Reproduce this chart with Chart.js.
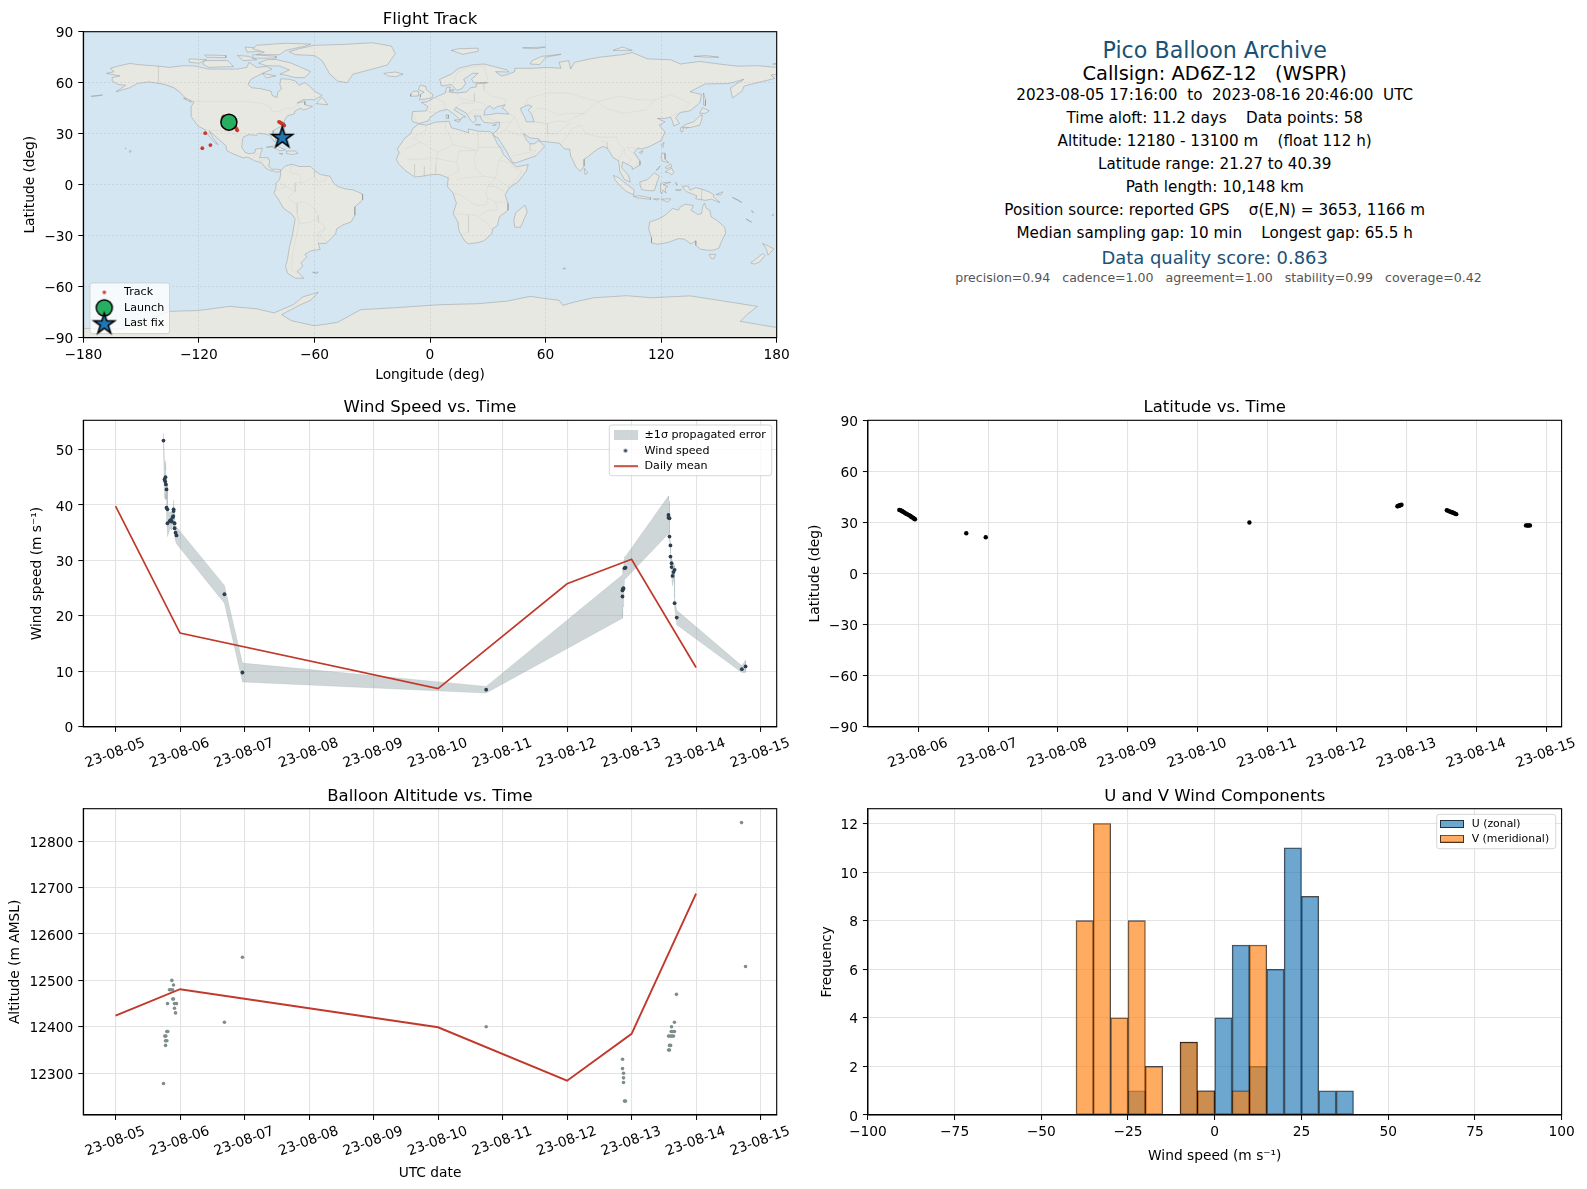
<!DOCTYPE html>
<html><head><meta charset="utf-8">
<script src="https://cdn.jsdelivr.net/npm/chart.js@4/dist/chart.umd.js"></script>
<style>
html,body{margin:0;padding:0;background:#fff;width:1587px;height:1189px;overflow:hidden;font-family:"DejaVu Sans",sans-serif}
canvas{position:absolute}
.t{position:absolute;left:1214.7px;transform:translate(-50%,-50%);white-space:pre;color:#000;font-size:15.2px}
</style></head><body>
<div class="t" style="top:50px;font-size:22.2px;color:#1a5276">Pico Balloon Archive</div>
<div class="t" style="top:73px;font-size:19.4px">Callsign: AD6Z-12   (WSPR)</div>
<div class="t" style="top:94.5px">2023-08-05 17:16:00  to  2023-08-16 20:46:00  UTC</div>
<div class="t" style="top:117.5px">Time aloft: 11.2 days    Data points: 58</div>
<div class="t" style="top:140.5px">Altitude: 12180 - 13100 m    (float 112 h)</div>
<div class="t" style="top:163.5px">Latitude range: 21.27 to 40.39</div>
<div class="t" style="top:186.5px">Path length: 10,148 km</div>
<div class="t" style="top:209.5px">Position source: reported GPS    σ(E,N) = 3653, 1166 m</div>
<div class="t" style="top:232.5px">Median sampling gap: 10 min    Longest gap: 65.5 h</div>
<div class="t" style="top:256.5px;font-size:17.9px;color:#1a5276">Data quality score: 0.863</div>
<div class="t" style="top:277px;left:1218.5px;font-size:12.55px;color:#555">precision=0.94   cadence=1.00   agreement=1.00   stability=0.99   coverage=0.42</div>
<script>
// ---------- values ----------
const dayTicksLeft = [5,6,7,8,9,10,11,12,13,14,15];
const dayTicksLat = [6,7,8,9,10,11,12,13,14,15];
const windDays = [5.743,5.759,5.77,5.774,5.78,5.79,5.79,5.805,5.805,5.84,5.86,5.87,5.885,5.895,5.90,5.90,5.915,5.915,5.93,5.945,6.688,6.967,10.746,12.859,12.859,12.865,12.87,12.875,12.89,12.906,13.572,13.572,13.588,13.588,13.603,13.603,13.62,13.62,13.635,13.65,13.667,13.667,13.70,14.71,14.767];
const windSpeed = [51.6,44.6,44.2,45.0,43.7,42.8,39.5,39.2,36.7,37.1,37.3,37.0,37.8,38.0,38.9,39.2,36.7,35.8,35.0,34.5,23.9,9.8,6.7,23.5,24.6,24.8,24.9,25.0,28.6,28.7,38.2,37.7,37.6,34.3,32.7,30.7,29.5,28.8,27.2,27.9,28.3,22.3,19.7,10.4,10.9];
const windSigma = [1.3,3.2,3.2,3.0,2.5,1.6,1.5,4.6,2.4,1.5,1.5,1.5,1.0,2.0,2.0,1.7,1.5,1.5,1.5,1.5,1.6,1.7,0.6,3.9,3.9,3.6,3.2,3.0,2.0,2.0,3.4,3.2,3.0,0.6,0.5,0.6,0.6,1.6,1.8,1.6,0.8,0.8,1.3,0.6,1.1];
const windMeanDays = [5,6,10,12,13,14];
const windMean = [39.8,16.9,6.9,25.8,30.2,10.7];
const latDays = [5.728,5.743,5.759,5.77,5.78,5.79,5.805,5.82,5.84,5.86,5.87,5.885,5.895,5.90,5.915,5.93,5.94,5.953,6.688,6.967,10.746,12.867,12.875,12.885,12.895,12.905,12.915,12.925,13.575,13.59,13.605,13.62,13.635,13.65,13.665,13.68,13.695,13.71,14.71,14.73,14.75,14.767];
const latDeg = [37.4,37.2,36.9,36.6,36.4,36.1,35.7,35.3,34.9,34.5,34.2,33.9,33.6,33.3,33.0,32.6,32.2,31.9,23.7,21.3,30.0,39.5,39.6,39.8,40.0,40.1,40.2,40.39,37.2,37.0,36.7,36.4,36.2,36.0,35.7,35.5,35.2,34.9,28.3,28.2,28.2,28.3];
const altDays = [5.743,5.764,5.775,5.775,5.78,5.795,5.795,5.805,5.81,5.836,5.857,5.873,5.883,5.887,5.898,5.898,5.914,5.914,5.93,5.945,6.688,6.967,10.746,12.86,12.86,12.875,12.875,12.875,12.89,12.906,13.573,13.573,13.588,13.588,13.6,13.605,13.614,13.62,13.625,13.64,13.65,13.665,13.665,13.696,14.705,14.767];
const altMeters = [12278,12380,12370,12360,12380,12390,12370,12450,12390,12480,12480,12500,12480,12460,12490,12460,12450,12440,12430,12450,12410,12550,12400,12330,12310,12300,12290,12280,12240,12240,12380,12350,12360,12350,12380,12360,12390,12400,12380,12390,12380,12410,12390,12470,12840,12530];
const altMean = [12424,12481,12399,12284,12385,12687];
const altMeanDays = [5,6,10,12,13,14];
const altTicks = [12300,12400,12500,12600,12700,12800];
const binCenters = [-37.5,-32.5,-27.5,-22.5,-17.5,-12.5,-7.5,-2.5,2.5,7.5,12.5,17.5,22.5,27.5,32.5,37.5];
const uCounts = [0,0,0,1,0,0,3,1,4,7,2,6,11,9,1,1];
const vCounts = [8,12,4,8,2,0,3,1,0,1,7,0,0,0,0,0];
const histXTicks = [-100,-75,-50,-25,0,25,50,75,100];
const histYTicks = [0,2,4,6,8,10,12];
const windTicks = [0,10,20,30,40,50];
const latTicks = [-90,-60,-30,0,30,60,90];
const lonTicks = [-180,-120,-60,0,60,120,180];
const trackLon = [-104.4,-103.5,-102.6,-101.8,-101,-100.4,-100.1,-116.7,-114,-118.2,-107.5,-107,-78.4,-77.8,-77.2,-76.6,-76,-75.7,-76.7];
const trackLat = [37,36.2,35.3,34.4,33.6,32.8,32,30.3,23.3,21.5,39.6,40.2,37,36.6,36.2,35.8,35.3,34.8,28.2];
const launchPoint = [-104.4,36.8];
const lastPoint = [-76.7,28.1];

const northAmerica = [[-168,65.5],[-164,66.5],[-166,68.5],[-161,70],[-156,71.3],[-150,70.5],[-141,69.7],[-135,69],[-128,70],[-122,69.8],[-115,68],[-108,68],[-100,68],[-95,69],[-94,72],[-90,69],[-85,69.5],[-82,68],[-87,65.5],[-93,62],[-94.5,59],[-92.5,57],[-88,56.5],[-82.5,55],[-82,52.5],[-79.5,51.3],[-79,54.5],[-77,56.5],[-78,59],[-77.5,62.3],[-73,62],[-70,61],[-68,58.5],[-65,60],[-62,57.5],[-60,55],[-56,52.5],[-60,50],[-66,50],[-69,48],[-65,49],[-65,47],[-61,46],[-64,44.5],[-66,44],[-67,45],[-70,43.5],[-70.5,41.7],[-74,40.5],[-75.5,38],[-76,35],[-78,34],[-81,32],[-81.5,30],[-80,27],[-80.5,25],[-82,27],[-83,29],[-85,29.7],[-89,30.3],[-90,29],[-94,29.5],[-97,28],[-97.5,25],[-97.7,22],[-96,19],[-94,18.2],[-91,18.7],[-90.5,21],[-87,21.5],[-88,18],[-88.5,16],[-84,15.8],[-83.3,14],[-83.7,11],[-82,9],[-80,9.2],[-77.5,8.7],[-78,7.5],[-80,7.5],[-81,8],[-83,8.3],[-85.5,10],[-87.5,13],[-91,14],[-94.5,16.2],[-97,15.8],[-102,18],[-105.5,20],[-106,23],[-109,26],[-112.5,29.5],[-114.7,31.7],[-113,28],[-110,23.5],[-112,25],[-115,29],[-117,32.5],[-120.5,34.5],[-122,37],[-124,40],[-124,46],[-122.5,48.5],[-127,51],[-130,54.5],[-133,57],[-138,59],[-146,60.5],[-152,59.5],[-156,57],[-163,54.7],[-158,58.5],[-162,59],[-165,61],[-165,63],[-161,64]];
const greenland = [[-73,78.2],[-68,80],[-60,82],[-45,82.5],[-30,83.5],[-20,81.5],[-18,77],[-20,74],[-22,70.5],[-30,68],[-40,65],[-43,60],[-48,61],[-52,65],[-54,69],[-56,73],[-60,76],[-70,76.5]];
const southAmerica = [[-77.5,8.5],[-75,11],[-72,12],[-70,11.5],[-68,10.7],[-62,10.7],[-60,8.5],[-57,6],[-52,5],[-50,1],[-48,-1],[-44,-2.5],[-40,-3],[-35,-5.5],[-35,-9],[-39,-13],[-39,-18],[-41,-22],[-45,-23.5],[-48.5,-26],[-49,-29],[-52,-32.5],[-54,-34.5],[-58,-34.5],[-57,-38],[-62,-39],[-65,-41],[-64,-42.5],[-67,-46],[-66,-48],[-69,-51],[-65.5,-55],[-70,-55],[-74,-52],[-75,-48],[-74,-44],[-73,-37],[-71.5,-30],[-70,-20],[-72,-17],[-76,-14],[-79,-8],[-81,-5],[-80,-2],[-80,1],[-78,3],[-77.5,7]];
const africa = [[-6,35.7],[-2,35],[3,36.8],[10,37.3],[11,33.5],[15,32.3],[20,30.5],[20,32.8],[25,31.5],[31,31.3],[32.5,30],[35,24],[37,21],[38,18],[41,14.5],[43.3,12],[45,10.5],[51,11.8],[50,8],[46,2],[41,-2],[39,-6],[40.5,-11],[40.5,-15],[36,-19],[35,-24],[32.5,-26],[32,-29],[28,-33],[25,-34],[20,-34.8],[18,-33],[15,-27],[14.5,-22],[12,-17],[13.7,-11],[12,-5],[9,-1],[9.5,4],[5,6],[1,6],[-4,5],[-8,4.5],[-13,8.5],[-16,12],[-17.5,14.7],[-16,19],[-17,21],[-13,27.5],[-10,30],[-9,33]];
const eurasia = [[-5.5,36],[-9,37],[-9.5,39],[-9,43],[-2,43.4],[-1,46],[-4.5,48.4],[-1.5,48.7],[2,51],[4,52],[8,54],[8.5,57],[10.5,57.5],[10,54.5],[14,54],[19,54.5],[21,57],[24,57.5],[24,59.3],[30,60],[23,60],[21.5,62],[25,65.5],[22,65.5],[17.5,62],[18.5,59.5],[16.5,56.5],[14,55.5],[11,59],[6,58],[5,62],[11,65],[15,68.5],[22,70.5],[28,71],[40,67.5],[41,66.3],[34,66.5],[37,64],[40,64.7],[44,66.5],[44,68.5],[54,68.5],[60,69],[68,68.5],[67,72],[72,73],[73,68],[75,72],[81,73.5],[88,75],[100,76.5],[105,77.7],[113,74],[125,73.5],[130,71],[140,72.5],[150,71],[160,69.7],[170,70],[180,69],[180,65],[177,64.5],[179,62.5],[170,60],[163,58],[162,55],[157,51],[156,57],[163,62],[155,59.5],[143,59.3],[135,54.7],[141,53],[140,48],[135,43.5],[130,42.5],[127.5,39.5],[129.5,36],[126.5,34.5],[126,37],[125,39.7],[121.5,39],[118,39],[122,37],[119,35],[122,31],[120,26],[114,22.5],[110,21],[108,21.5],[106,19],[109,14],[109,11.5],[105,9],[105,10.5],[100,13.5],[99.5,10],[103,5.5],[104,1.5],[101,3],[98.5,8],[98,14],[95,16],[94,18],[92,21.5],[90,22.5],[87,21],[82,16.5],[80,15],[80,11],[78,8],[76,10],[73,17],[72.5,21],[70,21],[67,24.5],[62,25],[57,25.7],[56.5,27],[52,27.5],[48.5,30],[50,26.5],[52,24],[54,24],[56.5,26],[59.5,22.5],[55,17],[45,13],[43,13],[39,21],[35,28],[34.5,28],[33,29],[32.5,30],[34.5,31.5],[36,34],[36,36.8],[32,36.2],[28,36.7],[26.5,39],[26.2,40.3],[23,40.5],[24,38],[22.5,36.5],[21,38],[19.5,41],[19,42],[13.5,45.5],[12.5,44],[16,41.5],[18.5,40],[16.5,39.5],[16,38],[12.5,41.5],[9,44.3],[5,43.3],[3,42],[0,39.5],[-1,37.5]];
const australia = [[114,-22],[113.5,-26],[115,-31],[115,-34.3],[118,-35],[123.5,-34],[129,-31.7],[132,-32],[135.5,-34.8],[138,-33],[138,-35.7],[140.5,-38],[144,-38.5],[147,-38.5],[150,-37.3],[151.5,-33],[153.5,-28.5],[153,-25],[149,-21],[146,-19],[145.3,-15],[143.5,-14],[142.5,-10.8],[141.5,-13],[141,-17],[139,-17.5],[135.5,-15],[136.8,-12.2],[132.5,-11.5],[130,-13],[129,-15],[126,-14],[122,-18],[119,-20]];
const antarctica = [[-180,-84.5],[-160,-85],[-148,-80],[-135,-74.5],[-120,-74],[-104,-71.6],[-90,-73],[-81,-75.4],[-71,-70.6],[-66,-66],[-58,-63.3],[-62,-68],[-68,-71],[-77,-76.4],[-72,-80],[-60,-83],[-48,-81],[-36,-73.5],[-20,-72.5],[5,-70.6],[25,-70],[40,-68.5],[52,-65.7],[60,-67],[67,-68],[69,-71],[75,-69],[85,-66.5],[102,-65.3],[115,-66.5],[135,-65.4],[150,-68],[170,-71.6],[165,-76],[161,-80.4],[180,-84],[180,-90],[-180,-90]];
const islands = [
 [[-80,73.7],[-72,71.5],[-68,69.5],[-62,66.5],[-65,63],[-70,63],[-75,64.5],[-78,65],[-73,67.5],[-78,69.8],[-85,70],[-89,71.5],[-85,73.5]],
 [[-117,73],[-105,73],[-102,69.5],[-115,69],[-118,71]],[[-125,74],[-116,73.5],[-120,71.5],[-125,72]],
 [[-90,76.5],[-78,76.5],[-75,79],[-65,81.5],[-62,82.7],[-75,83.2],[-90,82],[-92,80],[-86,78]],
 [[-92,76.5],[-80,75.5],[-80,74.5],[-92,74.5]],[[-100,76],[-97,73],[-90,73.5],[-94,75.5]],[[-117,76.3],[-106,76],[-106,74.7],[-116,75]],
 [[-96,81],[-87,80],[-88,78.5],[-95,78]],[[-59,47.7],[-56,51.5],[-53,47]],[[-87,65.5],[-80,64],[-85,62.8]],[[-128,50.8],[-124,48.5],[-125,50.5]],
 [[-85,22],[-80,23],[-75,20.5],[-78,20],[-82,22.3]],[[-74.5,19.8],[-70,19.8],[-68.5,18.5],[-71.5,17.8],[-74.5,18.3]],[[-78.3,18.4],[-76.3,18.2],[-77.2,17.8]],
 [[-156,20.2],[-155,19.7],[-155.8,19]],[[-158.2,21.6],[-157.7,21.4],[-158,21.2]],[[-176,52],[-170,52.8],[-172,52.3]],
 [[-24,65.5],[-18,66.3],[-14,65],[-18,63.5],[-22,64]],[[-5.5,50],[1,51],[1.5,53],[-2,56],[-2,57.7],[-5,58.6],[-6,56],[-3,54.5],[-5,53],[-5,51.7]],[[-10,52],[-6,52.2],[-6,55],[-8.5,55],[-10,53.5]],
 [[11,79],[17,76.7],[25,78.5],[25,80.3],[15,80]],[[52,71],[57,70.7],[60,75],[68,76.7],[58,75.5],[53,73]],[[95,79],[105,79],[100,81]],[[137,75.5],[145,75],[150,75],[143,76]],[[178,71],[180,71.5],[180,70.8]],[[48,80.5],[60,81],[55,80]],
 [[142,54],[143,50],[143,46.5],[142,47],[142,51]],[[130.9,34],[135,33.6],[140,35],[141,38],[141.4,41],[140,40.5],[137,37],[133,35.6]],[[140,42],[141.5,45.3],[145,43.5],[143,42]],[[130,33.5],[131.7,33.5],[131,31],[130,31.5]],[[132.5,34],[134.5,34],[133,33]],
 [[120,23],[121.5,25],[121,22]],[[108.7,19],[110.5,20],[110,18.3]],[[120.5,18.5],[122,18.5],[122,15],[124,13],[121,13.7],[120,16]],[[122,7.5],[125.5,9.8],[126.5,7],[125.5,5.8],[124,7]],[[122,10],[125,12.3],[125.5,10.5],[123,9.5]],[[117.3,8.5],[119.5,11],[118.5,9]],
 [[95.3,5.5],[98,4],[103.5,-1],[106,-3],[105.7,-6],[102,-4],[99,-1],[96,3]],[[105.5,-6.8],[108.5,-6.5],[114.5,-7.7],[114.5,-8.6],[108,-7.8]],[[109,1.5],[113,3],[116.5,7],[119,5],[117.7,1],[116.5,-3.5],[114,-3.5],[110,-3],[109,0]],
 [[120,1],[125,1.5],[121,0],[123.5,-1],[122,-2],[122.5,-5],[121,-3],[120.3,-5.5],[119.5,-3.5],[119.7,0]],[[131,-1],[134,-0.8],[135,-3.3],[138,-1.7],[141,-2.6],[145,-4.3],[147.5,-6],[147,-7],[150.5,-10.5],[146,-8.5],[143,-9.2],[138,-8.3],[138.5,-6.5],[133,-4],[132,-2.8]],
 [[120,-8.5],[125,-8.3],[123.5,-10.3]],[[116,-8.4],[119,-8.3],[118,-9]],[[127.5,1.5],[128.5,0.5],[128,-0.5]],[[127.5,-3],[130.5,-3],[129,-3.5]],[[148.5,-5.7],[152,-4.2],[151,-6]],[[157,-7.5],[160,-9],[162,-10.5]],[[167,-15],[168,-16.5],[167.2,-16]],[[164,-20],[167,-22],[164.5,-20.7]],[[177.5,-18],[178.5,-17.5],[178,-18.3]],
 [[80,9.7],[82,7],[80.5,6]],[[49.3,-12],[50.5,-16],[47,-25],[44,-25],[43.5,-21],[44.5,-16.5]],[[145,-41],[148.3,-41],[147.5,-43.5],[146,-43.5]],[[172.7,-34.5],[178.5,-37.7],[175.5,-41.5],[174.7,-38]],[[172.7,-40.5],[174,-41.7],[171,-45.5],[168.5,-46.7],[166.5,-46],[170,-43]],
 [[69,-49],[70.5,-49.2],[69.5,-49.8]],[[-61,-51.5],[-58,-51.5],[-59,-52.3]],[[12.5,38],[15.5,38.2],[15,36.7]],[[8.3,41],[9.7,41],[9.5,39],[8.5,39]],[[23.5,35.5],[26.3,35.2],[24,35]],[[32.5,35],[34.5,35.5],[33.5,34.7]],[[10,55.5],[12.5,56],[12,55]]
];
const inlandSeas = [
 [[28,41],[31,41.2],[35,42],[41,41.5],[39,44],[37.5,45],[39,47],[35,46],[33,44.5],[31,46.5],[28.5,44]],
 [[47,45],[51,47],[53,46],[51,44],[53,41],[54,37],[50,37],[49,40],[47.5,43]]
];
const borders = [
 [[-123,49],[-95,49],[-88,48],[-83,46],[-82,43],[-79,43],[-75,45],[-71,45],[-69,47],[-67,45]],[[-141,70],[-141,60],[-135,58.5],[-130,55]],[[-117,32.5],[-108,31.5],[-106,31.7],[-101,29.5],[-97.5,26]],
 [[-92,14.5],[-91,17.5],[-89,18]],[[-89,16],[-88,14],[-84,15]],[[-86,11],[-83.6,11]],[[-83,8.5],[-82.7,9.5]],
 [[-72,12],[-72.5,7],[-67.5,6],[-67,1],[-70,1],[-70,-4]],[[-60,5],[-64,2],[-67,1]],[[-70,-4],[-74,-7.5],[-70,-11],[-65,-10],[-60,-14],[-58,-18],[-58,-22],[-55,-24],[-54.5,-26],[-57.5,-30],[-53.5,-33.5]],[[-80,-3.5],[-75,-1],[-70,-4]],[[-69,-18],[-68,-23],[-70,-33],[-71.5,-42],[-72,-50],[-69,-52]],[[-69,-11],[-69,-17],[-67,-23],[-62,-22],[-58,-19]],[[-60,8],[-60,5],[-58,1.5],[-54,2.5],[-54,5.5]],[[-78,1],[-75,-1]],[[-58,-34],[-58,-28],[-54.5,-26]],
 [[-9,27.5],[-2,32],[-2,35]],[[-9,27.5],[-5,25],[4,19],[12,23.5],[10,30],[8,33],[8,37]],[[12,23.5],[25,20],[25,31.5]],[[25,22],[37,22]],[[24,20],[23,15],[24,9],[28,5],[34,4],[35,10],[36,14.5],[38.5,18]],[[4,19],[3,11.5],[3,6.5]],[[-12,15],[-5,15],[3,15.5],[14,13],[15,8],[9,4.5]],[[14,13],[15,20],[24,20]],[[14,3],[18,4],[28,5]],[[34,4],[41,-1.5]],[[34,4],[30,-1],[34,-1],[39,-4.5]],[[30,-1],[29,-5],[30,-8],[34,-10],[40.5,-10.5]],[[12,-5],[16,-6],[22,-11],[24,-12],[29,-12],[30,-8]],[[12,-17],[24,-18],[29,-22],[32,-26]],[[20,-18],[20,-28],[17,-29]],[[34,-10],[35,-15],[30,-15],[26,-18]],[[42,11],[48,8],[41,-1.5]],[[36,14.5],[43,12]],[[-13,21],[-5,25]],[[-8,12],[-8,5]],[[-3,11],[-3,5]],
 [[-2,43.4],[3,42.5]],[[-9,42],[-7,37]],[[3,51],[8,48],[7.5,44]],[[8,54.5],[14,54],[15,51],[23,49],[27,48],[30,46]],[[13.5,46],[17,48],[23,48]],[[20,42],[23,44],[28,44]],[[20,42],[26,41.5]],[[23,54],[23,49]],[[28,60],[28,56],[32,52],[40,50],[38,47]],[[28,70],[30,62],[28,60]],[[12,59],[14,66],[20,69],[28,70]],
 [[26,41],[36,36.5],[42,37],[44,40],[41,41.5]],[[35,30],[39,32],[42,37]],[[39,32],[47,29],[48.5,29.5]],[[52,24],[52,20],[55,20],[52,17]],[[43,17],[52,19]],[[44,40],[46,35],[48,30]],[[54,37],[61,36],[61,30],[61.5,25]],[[49,46],[51,51],[62,54],[72,54],[80,51],[87,49]],[[87,49],[98,52],[108,50],[117,50],[112,44],[100,42],[91,45],[87,49]],[[117,50],[125,53],[135,48],[131,43]],[[124.5,40],[130,42.5]],[[53,42],[56,45],[61,44],[67,41],[71,42],[80,42],[87,49]],[[54,37],[61,36],[66,37.5],[71,37],[74,39],[80,42]],[[61,30],[66,30],[70,34],[74,37]],[[68,24],[71,28],[74,33],[78,35]],[[78,35],[81,30],[88,28],[92,28],[97,28]],[[88,26],[92,25],[92,21]],[[97,28],[98,24],[101,21],[99,17],[98,14]],[[102,22],[105,19],[108,15],[107,11]],[[102,12],[105,14.5],[101,18],[101,21]],[[102,22],[108,21.5]],[[141,-2.6],[141,-9]]
];

// ---------- helpers ----------
Chart.defaults.font.family = '"DejaVu Sans"';
Chart.defaults.color = '#000';
const FS = {title:16.5, tick:13.78, label:13.78, legend:11.1};
const GRID = '#e3e3e3';

function swatch(w,h,draw){const c=document.createElement('canvas');c.width=w;c.height=h;draw(c.getContext('2d'),w,h);return c;}
function starPath(ctx,cx,cy,R){ctx.beginPath();for(let i=0;i<10;i++){const r=i%2?R*0.382:R;const a=-Math.PI/2+i*Math.PI/5;ctx[i?'lineTo':'moveTo'](cx+r*Math.cos(a),cy+r*Math.sin(a));}ctx.closePath();}
const starImg = swatch(26,26,(c,w,h)=>{starPath(c,w/2,h/2+0.8,11);c.fillStyle='#1f77b4';c.fill();c.strokeStyle='#000';c.lineWidth=1.5;c.stroke();});
const circleImg = swatch(22,22,(c,w,h)=>{c.beginPath();c.arc(w/2,h/2,8,0,7);c.fillStyle='#27ae60';c.fill();c.strokeStyle='#000';c.lineWidth=1.5;c.stroke();});
const dotImg = swatch(6,6,(c,w,h)=>{c.beginPath();c.arc(w/2,h/2,1.8,0,7);c.fillStyle='#c9392b';c.fill();});
const bandImg = swatch(24,10,(c,w,h)=>{c.fillStyle='rgba(149,165,166,.45)';c.fillRect(0,0,w,h);});
const windDotImg = swatch(6,6,(c,w,h)=>{c.beginPath();c.arc(w/2,h/2,1.8,0,7);c.fillStyle='#2c3e50';c.fill();});
const redLineImg = swatch(24,4,(c,w,h)=>{c.fillStyle='#c0392b';c.fillRect(0,1,w,1.8);});
const uImg = swatch(24,8,(c,w,h)=>{c.fillStyle='rgba(31,119,180,.65)';c.fillRect(0,0,w,h);c.strokeStyle='rgba(0,0,0,.7)';c.strokeRect(.5,.5,w-1,h-1);});
const vImg = swatch(24,8,(c,w,h)=>{c.fillStyle='rgba(255,127,14,.65)';c.fillRect(0,0,w,h);c.strokeStyle='rgba(0,0,0,.7)';c.strokeRect(.5,.5,w-1,h-1);});

const framePlugin = {id:'frame',
 beforeDraw(ch,a,o){if(o.ocean){const r=ch.chartArea;ch.ctx.fillStyle=o.ocean;ch.ctx.fillRect(r.left,r.top,r.width,r.height);}},
 afterDraw(ch){const r=ch.chartArea,c=ch.ctx;c.save();c.strokeStyle='#000';c.lineWidth=1.1;c.strokeRect(r.left,r.top,r.width,r.height);c.restore();}};
const legendBoxPlugin = {id:'legendBox',
 beforeLayout(ch,a,o){ if(!o.box||!ch.legend)return; ch.legend._layers=()=>[{z:5,draw(){const c=ch.ctx,[x,y,w,h]=o.box.map((v,i)=>v-(i<2?ch.canvas.offsetPos[i]:0));c.save();c.beginPath();c.roundRect(x,y,w,h,2.5);c.fillStyle='rgba(255,255,255,.8)';c.fill();c.strokeStyle='rgba(204,204,204,.8)';c.lineWidth=1;c.stroke();c.restore();ch.legend.draw();}}];},
 afterLayout(ch,a,o){ if(!o.box||!ch.legend)return; const l=ch.legend,p=l.options.labels.padding; l.left=o.first[0]-ch.canvas.offsetPos[0]-p; l.top=o.first[1]-ch.canvas.offsetPos[1]-p; l.bottom=l.top+1000; l.right=l.left+1000; }};
Chart.register(framePlugin,legendBoxPlugin);

function fmtNum(v){return String(v).replace('-','\u2212');}
function dayLabel(v){return '23-08-'+String(v).padStart(2,'0');}

function axis(side,opt){
 const gz=(opt.grid&&opt.grid.z)||0;
 const s={type:'linear',min:opt.min,max:opt.max,
  afterBuildTicks(sc){sc.ticks=opt.ticks.map(v=>({value:v}));},
  grid:Object.assign({color:GRID,lineWidth:1.1,tickColor:'#000',tickLength:5,tickWidth:1,offset:false},opt.grid||{}),
  border:Object.assign({color:'#000',width:1.1,z:gz},opt.border||{}),
  ticks:Object.assign({font:{size:FS.tick},color:'#000',padding:5,autoSkip:false,maxRotation:0,minRotation:0,callback:opt.fmt||fmtNum},side==='y'?{labelOffset:2}:{},opt.tk||{})};
 if(opt.title) s.title={display:true,text:opt.title,font:{size:FS.label},color:'#000',padding:{top:opt.titlePad||0,bottom:0}};
 s.afterFit=(sc)=>{ if(side==='x') sc.height=opt.size; else sc.width=opt.size; };
 return s;
}

function build(p,spec){
 const lh=FS.title*1.2, ptop=1;
 const top=Math.round(p.titleY-lh/2-ptop);
 const left=Math.floor(p.l-76);
 const xlh=FS.label*1.2;
 const bottom=spec.xTitleY?Math.round(spec.xTitleY+xlh/2):Math.round(p.b+62);
 const right=Math.ceil(p.r+24);
 const cv=document.createElement('canvas');
 cv.width=right-left;cv.height=bottom-top;
 cv.style.left=left+'px';cv.style.top=top+'px';
 cv.style.width=(right-left)+'px';cv.style.height=(bottom-top)+'px';
 cv.offsetPos=[left,top];
 document.body.appendChild(cv);
 spec.x.size=bottom-p.b; spec.y.size=p.l-left;
 spec.y.titlePad=Math.max(0,spec.yTitleX-left-xlh/2);
 const plugins={
  title:{display:true,text:p.title,fullSize:false,color:'#000',font:{size:FS.title,weight:'normal'},padding:{top:ptop,bottom:p.t-top-lh-ptop}},
  tooltip:{enabled:false},
  legend:spec.legend?{display:true,position:'chartArea',align:'start',
    labels:{font:{size:spec.legend.font||FS.legend},color:'#000',padding:spec.legend.pad,pointStyleWidth:spec.legend.boxW,usePointStyle:true,generateLabels:()=>spec.legend.items.map(it=>({text:it[0],pointStyle:it[1],datasetIndex:0,hidden:false,fontColor:'#000'}))}}:{display:false},
  frame:{ocean:spec.ocean||null},
  legendBox:spec.legend?{box:spec.legend.box,first:spec.legend.first}:{}
 };
 new Chart(cv,{type:spec.type||'scatter',data:{datasets:spec.datasets},options:{
  responsive:false,animation:false,devicePixelRatio:1,
  layout:{padding:{left:0,right:right-p.r,top:0,bottom:0}},
  plugins,
  scales:{x:Object.assign(axis('x',spec.x),spec.type==='bar'?{offset:false}:{}),y:axis('y',spec.y)}
 }});
}
const rows=(xs,ys)=>xs.map((x,i)=>({x,y:ys[i]}));
const ring=a=>{const r=a.map(q=>({x:q[0],y:q[1]}));r.push({x:a[0][0],y:a[0][1]});return r;};
const path=a=>a.map(q=>({x:q[0],y:q[1]}));

// ---------- map ----------
const COAST='rgba(130,130,130,.55)', LAND='#e8e8e3', OCEAN='#d4e6f1';
const lands=[northAmerica,greenland,southAmerica,africa,eurasia,australia,antarctica,...islands];
const mapSets=[];
lands.forEach(a=>mapSets.push({data:ring(a),showLine:true,pointRadius:0,fill:'shape',backgroundColor:LAND,borderColor:COAST,borderWidth:.7,order:50}));
inlandSeas.forEach(a=>mapSets.push({data:ring(a),showLine:true,pointRadius:0,fill:'shape',backgroundColor:OCEAN,borderColor:COAST,borderWidth:.7,order:40}));
borders.forEach(a=>mapSets.push({data:path(a),showLine:true,pointRadius:0,fill:false,borderColor:'rgba(170,170,170,.22)',borderWidth:.7,order:30}));
mapSets.push({data:rows(trackLon,trackLat),pointRadius:1.9,pointBackgroundColor:'#c9392b',pointBorderWidth:0,showLine:false,order:3});
mapSets.push({data:[{x:launchPoint[0],y:launchPoint[1]}],pointRadius:8,pointBackgroundColor:'#27ae60',pointBorderColor:'#000',pointBorderWidth:1.5,showLine:false,order:2});
mapSets.push({data:[{x:lastPoint[0],y:lastPoint[1]}],pointStyle:starImg,pointRadius:10,showLine:false,order:1});
const mapGrid={color:'rgba(120,120,120,.2)',z:1,lineWidth:.8};
build({title:'Flight Track',titleY:19.5,l:83.3,r:776.7,t:31.7,b:337.7},{
 datasets:mapSets,ocean:OCEAN,xTitleY:375.5,yTitleX:30.4,
 x:{min:-180,max:180,ticks:lonTicks,title:'Longitude (deg)',grid:mapGrid,border:{dash:[2,2]},tk:{padding:4}},
 y:{min:-90,max:90,ticks:latTicks,title:'Latitude (deg)',grid:mapGrid,border:{dash:[2,2]}},
 legend:{box:[90,283,79.5,50.5],first:[90.1,286.8],boxW:28.4,pad:4.4,items:[['Track',dotImg],['Launch',circleImg],['Last fix',starImg]]}
});

// ---------- wind ----------
const bandPts=[...windDays.map((d,i)=>({x:d,y:windSpeed[i]+windSigma[i]})),...windDays.map((d,i)=>({x:d,y:windSpeed[i]-windSigma[i]})).reverse()];
bandPts.push(bandPts[0]);
const dayTk={labelOffset:29,minRotation:20,maxRotation:20,padding:3};
build({title:'Wind Speed vs. Time',titleY:407.7,l:83.3,r:776.7,t:420.3,b:726.9},{
 yTitleX:37.5,
 datasets:[
  {data:bandPts,showLine:true,pointRadius:0,fill:'shape',backgroundColor:'rgba(149,165,166,.45)',borderColor:'rgba(149,165,166,.45)',borderWidth:.5,order:5},
  {data:rows(windDays,windSpeed),showLine:false,pointRadius:1.9,pointBackgroundColor:'#2c3e50',pointBorderWidth:0,order:3},
  {data:rows(windMeanDays,windMean),showLine:true,pointRadius:0,fill:false,borderColor:'#c0392b',borderWidth:1.7,order:2}],
 x:{min:4.5,max:15.25,ticks:dayTicksLeft,fmt:dayLabel,tk:dayTk},
 y:{min:0,max:55.25,ticks:windTicks,title:'Wind speed (m s\u207B\u00B9)'},
 legend:{box:[609.3,425,162.4,50.7],first:[612,429.5],boxW:27,pad:4.5,items:[['\u00B11\u03C3 propagated error',bandImg],['Wind speed',windDotImg],['Daily mean',redLineImg]]}
});

// ---------- latitude ----------
build({title:'Latitude vs. Time',titleY:407.7,l:867.9,r:1561.6,t:420.3,b:726.9},{
 yTitleX:815.5,
 datasets:[{data:rows(latDays,latDeg),showLine:false,pointRadius:2.2,pointBackgroundColor:'#000',pointBorderWidth:0}],
 x:{min:5.278,max:15.22,ticks:dayTicksLat,fmt:dayLabel,tk:dayTk},
 y:{min:-90,max:90,ticks:latTicks,title:'Latitude (deg)'}
});

// ---------- altitude ----------
build({title:'Balloon Altitude vs. Time',titleY:796.5,l:83.3,r:776.7,t:808.7,b:1115},{
 yTitleX:15.5,xTitleY:1174,
 datasets:[
  {data:rows(altDays,altMeters),showLine:false,pointRadius:1.8,pointBackgroundColor:'#7f8c8d',pointBorderWidth:0,order:3},
  {data:rows(altMeanDays,altMean),showLine:true,pointRadius:0,fill:false,borderColor:'#c0392b',borderWidth:1.9,order:2}],
 x:{min:4.5,max:15.25,ticks:dayTicksLeft,fmt:dayLabel,tk:dayTk,title:'UTC date'},
 y:{min:12210,max:12870,ticks:altTicks,title:'Altitude (m AMSL)'}
});

// ---------- histogram ----------
const barStyle={grouped:false,barPercentage:1,categoryPercentage:1,borderWidth:.9,borderSkipped:false,borderColor:'rgba(0,0,0,.7)'};
build({title:'U and V Wind Components',titleY:796.5,l:867.9,r:1561.6,t:808.7,b:1115},{
 type:'bar',yTitleX:827.5,xTitleY:1157,
 datasets:[
  Object.assign({label:'U (zonal)',data:rows(binCenters,uCounts),backgroundColor:'rgba(31,119,180,.65)',order:2},barStyle),
  Object.assign({label:'V (meridional)',data:rows(binCenters,vCounts),backgroundColor:'rgba(255,127,14,.65)',order:1},barStyle)],
 x:{min:-100,max:100,ticks:histXTicks,title:'Wind speed (m s\u207B\u00B9)',tk:{padding:4}},
 y:{min:0,max:12.61,ticks:histYTicks,title:'Frequency'},
 legend:{box:[1436.7,814.3,119,34.4],first:[1437.75,818.55],boxW:28.5,font:10.9,pad:3.8,items:[['U (zonal)',uImg],['V (meridional)',vImg]]}
});
</script>
</body></html>
